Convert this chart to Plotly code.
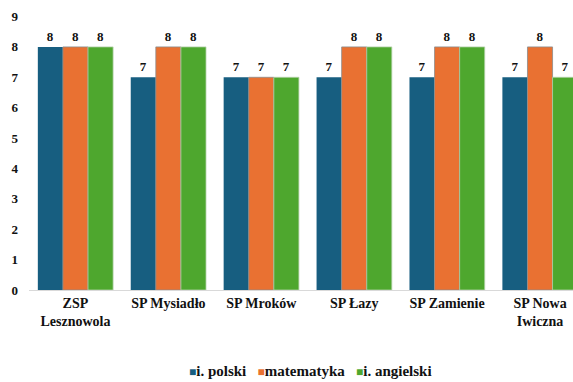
import plotly.graph_objects as go

categories = ["ZSP<br>Lesznowola", "SP Mysiadło", "SP Mroków", "SP Łazy", "SP Zamienie", "SP Nowa<br>Iwiczna"]
polski = [8, 7, 7, 7, 7, 7]
matematyka = [8, 8, 7, 8, 8, 8]
angielski = [8, 8, 7, 8, 8, 7]
yticks = [0, 1, 2, 3, 4, 5, 6, 7, 8, 9]

font_family = "Times New Roman, Liberation Serif, serif"
series = [
    ("i. polski", polski, "#175e80", "rgba(0,0,0,0)"),
    ("matematyka", matematyka, "#e97132", "rgba(140,140,140,0.8)"),
    ("i. angielski", angielski, "#4ea72e", "rgba(180,210,170,0.8)"),
]

fig = go.Figure()
for name, vals, color, lc in series:
    fig.add_trace(go.Bar(
        x=list(range(len(categories))), y=vals, name=name,
        marker=dict(color=color, line=dict(color=lc, width=1)),
        text=["<b>" + str(v) + "</b>" for v in vals], textposition="outside",
        textfont=dict(family=font_family, size=13, color="#111"),
        cliponaxis=False, showlegend=False,
    ))

# compact legend drawn as text with coloured squares
legend_html = "&nbsp;&nbsp;&nbsp;".join(
    '<span style="color:%s;font-size:12px">■</span><b>%s</b>' % (c, n) for n, _, c, _ in series
)
fig.add_annotation(
    text=legend_html, xref="paper", yref="paper", x=0.517, y=-0.295,
    xanchor="center", yanchor="middle", showarrow=False,
    font=dict(family=font_family, size=15, color="#111"),
)

fig.update_layout(
    width=573, height=382,
    margin=dict(l=29, r=0, t=15, b=92),
    paper_bgcolor="white", plot_bgcolor="white",
    barmode="group", bargap=0.19, bargroupgap=0,
    font=dict(family=font_family, size=14, color="#111"),
    showlegend=False,
)
fig.update_xaxes(
    range=[-0.5, 5.355],
    tickmode="array", tickvals=list(range(len(categories))),
    ticktext=["<b>" + c.replace("<br>", "</b><br><b>") + "</b>" for c in categories],
    tickfont=dict(family=font_family, size=14, color="#111"),
    showline=True, linecolor="#d9d9d9", linewidth=1,
    showgrid=False, ticks="", zeroline=False,
)
fig.update_yaxes(
    range=[0, 9.05], tickmode="array", tickvals=yticks,
    ticktext=["<b>" + str(t) + "</b>" for t in yticks],
    tickfont=dict(family=font_family, size=13, color="#111"),
    ticklabelstandoff=10,
    showgrid=False, zeroline=False, showline=False, ticks="",
)

fig.write_html(
    "out.html",
    config={"displayModeBar": False},
    post_script="document.body.style.margin='0';document.documentElement.style.overflow='hidden';",
)
